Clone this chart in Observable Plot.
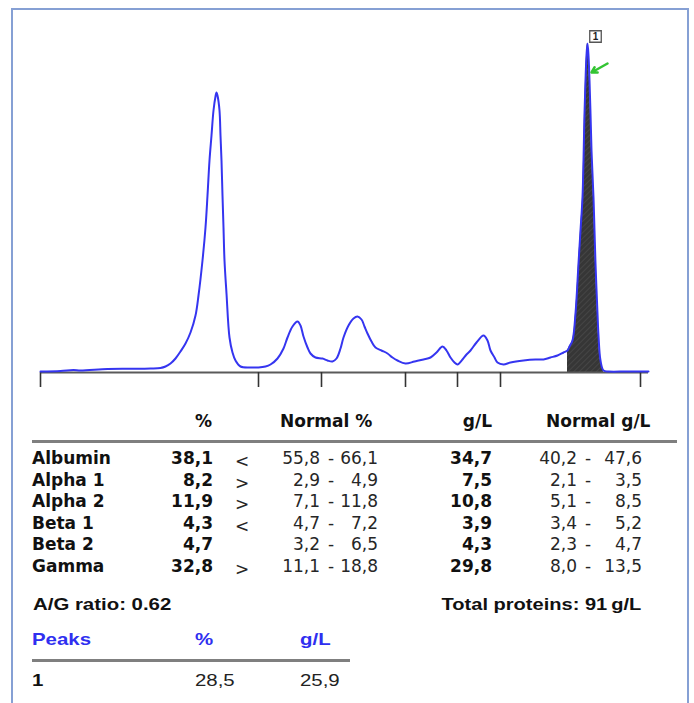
<!DOCTYPE html>
<html><head><meta charset="utf-8">
<script src="https://cdn.jsdelivr.net/npm/d3@7"></script>
<script src="https://cdn.jsdelivr.net/npm/@observablehq/plot@0.6"></script>
<style>
html,body{margin:0;padding:0;background:#fff;overflow:hidden;width:694px;height:703px}
#page{position:relative;width:694px;height:703px;overflow:hidden}
#frame{position:absolute;left:11px;top:8px;width:678px;height:720px;border:2px solid #86a0d4;box-sizing:border-box}
#chart{position:absolute;left:0;top:0}
.t{position:absolute;white-space:pre;line-height:20px;height:20px}
.v{font-family:"DejaVu Sans",sans-serif;font-size:17px;color:#262626}
.b{font-weight:bold;color:#111}
.a{font-family:"Liberation Sans",Arial,sans-serif;font-size:17px;font-weight:bold;color:#111}
.ar{font-family:"Liberation Sans",Arial,sans-serif;font-size:17px;color:#222}
.blue{color:#2f2ff0}
.rule{position:absolute;height:3px;background:#7f7f7f}
</style>
</head>
<body>
<div id="page">
  <div id="frame"></div>
  <div id="chart"></div>
</div>
<script>
// ---- Densitometry trace (mobility units, density units) ----
const mobility = [0,20,33,40,67,90,110,120,125,130,135,140,145,150,155,158,162,165,167,169,171,173,175,176,177,179,180,181,182,183,184,186,189,192,195,200,210,218,225,230,237,243,247,252,257,260,263,267,270,275,282,287,292,296,300,303,308,313,317,321,324,327,331,335,341,347,352,357,365,374,383,390,396,402,406,410,414,417,422,426,430,436,443,447,450,454,457,463,470,483,495,503,510,517,523,527,529,532,535,538,540,542,543,544,545,546,547,548,549,550,551,553,554,555,557,558,560,563,568,585,600,608];
const density = [1,1.5,2.5,2,3.5,3.7,4,4.5,6,9,14,21,29,40,57,77,112,145,177,212,237,262,276,280,277,262,237,212,177,145,112,79,35,20,12,6,5,5,6,8,14,24,35,46,51,47,36,25,19,15,14,12,11,14,24,35,47,54,56,53,46,39,31,25,22,19,15,12,9,11,13,15,20,26,22,15,10,8,13,18,22,30,37,32,22,15,10,8,10,12,13,13,15,17,20,22,26,32,59,109,142,175,212,259,292,317,329,317,292,259,222,175,142,109,59,37,12,2,1,1,1,1];

// fraction boundaries (mobility units)
const boundaries = [0, 218, 281, 365, 417, 460, 600];

// monoclonal peak
const peakIds = [1];
const peakMobility = [547];
const peakDensity = [329];
const peakRangeStart = [527];
const peakRangeEnd = [563];
const peakPct = [28.5];
const peakGL = [25.9];

// ---- Result table ----
const fractions = ["Albumin", "Alpha 1", "Alpha 2", "Beta 1", "Beta 2", "Gamma"];
const percent = [38.1, 8.2, 11.9, 4.3, 4.7, 32.8];
const flags = ["<", ">", ">", "<", "", ">"];
const normalPctLow = [55.8, 2.9, 7.1, 4.7, 3.2, 11.1];
const normalPctHigh = [66.1, 4.9, 11.8, 7.2, 6.5, 18.8];
const gramsPerL = [34.7, 7.5, 10.8, 3.9, 4.3, 29.8];
const normalGLLow = [40.2, 2.1, 5.1, 3.4, 2.3, 8.0];
const normalGLHigh = [47.6, 3.5, 8.5, 5.2, 4.7, 13.5];
const agRatio = "0.62";
const totalProteins = 91;

const fmt = v => v.toFixed(1).replace(".", ",");

// ---- Plot ----
const curve = mobility.map((m, i) => ({m, d: density[i]}));
const peaks = peakIds.map((id, i) => ({id, m: peakMobility[i], d: peakDensity[i], s: peakRangeStart[i], e: peakRangeEnd[i]}));
const shaded = curve.filter(p => peaks.some(k => p.m >= k.s && p.m <= k.e));
const pointer = peaks.map(k => ({x1: k.m + 20, y1: k.d - 20, x2: k.m + 4, y2: k.d - 29}));

const chart = Plot.plot({
  width: 694,
  height: 395,
  marginLeft: 40,
  marginRight: 46,
  marginTop: 43,
  marginBottom: 23,
  x: {domain: [0, 608], axis: null, label: null},
  y: {domain: [0, 329], axis: null, label: null},
  style: {background: "transparent", overflow: "visible"},
  marks: [
    Plot.areaY(shaded, {x: "m", y: "d", fill: "url(#hatch)", curve: "catmull-rom"}),
    Plot.ruleY([0], {stroke: "#5a5a5a", strokeWidth: 2}),
    Plot.axisX({ticks: boundaries, tickSize: 15, tickFormat: () => "", label: null, stroke: "#333", strokeWidth: 1.6}),
    Plot.line(curve, {x: "m", y: "d", stroke: "#3535f0", strokeWidth: 2, curve: "catmull-rom"}),
    Plot.arrow(pointer, {x1: "x1", y1: "y1", x2: "x2", y2: "y2", stroke: "#33c433", strokeWidth: 2.5, headLength: 7}),
    Plot.dot(peaks, {x: "m", y: "d", symbol: "square", r: 6.5, fill: "white", stroke: "#555", strokeWidth: 1.3, dx: 8, dy: -7}),
    Plot.text(peaks, {x: "m", y: "d", text: "id", dx: 8, dy: -7, fontSize: 10, fontWeight: "bold", fill: "#222", fontFamily: "Liberation Sans"})
  ]
});
// hatch pattern for the integrated peak
const ns = "http://www.w3.org/2000/svg";
const defs = document.createElementNS(ns, "defs");
defs.innerHTML = '<pattern id="hatch" patternUnits="userSpaceOnUse" width="4" height="4" patternTransform="rotate(45)"><rect width="4" height="4" fill="#363636"/><line x1="0" y1="0" x2="0" y2="4" stroke="#4e4e4e" stroke-width="1.2"/></pattern>';
chart.insertBefore(defs, chart.firstChild);
document.getElementById("chart").appendChild(chart);

// ---- Text layout ----
const page = document.getElementById("page");
function place(txt, x, yc, align, cls, sx) {
  const el = document.createElement("div");
  el.className = "t " + cls;
  el.textContent = txt;
  el.style.top = (yc - 10) + "px";
  if (align === "right") { el.style.right = (694 - x) + "px"; el.style.textAlign = "right"; }
  else if (align === "center") { el.style.left = (x - 50) + "px"; el.style.width = "100px"; el.style.textAlign = "center"; }
  else el.style.left = x + "px";
  if (sx) { el.style.transform = `scaleX(${sx})`; el.style.transformOrigin = align === "right" ? "right" : "left"; }
  page.appendChild(el);
}
function rule(x1, x2, y) {
  const el = document.createElement("div");
  el.className = "rule";
  el.style.left = x1 + "px"; el.style.width = (x2 - x1) + "px"; el.style.top = (y - 1.5) + "px";
  page.appendChild(el);
}

// header
place("%", 212, 421, "right", "v b");
place("Normal %", 280, 421, "left", "v b");
place("g/L", 492, 421, "right", "v b");
place("Normal g/L", 546, 421, "left", "v b");
rule(32, 677, 441);

fractions.forEach((f, i) => {
  const y = 458 + i * 21.6;
  place(f, 32, y, "left", "v b");
  place(fmt(percent[i]), 213, y, "right", "v b");
  if (flags[i]) place(flags[i], 242, y + 3, "center", "v");
  place(fmt(normalPctLow[i]), 320, y, "right", "v");
  place("-", 331, y, "center", "v");
  place(fmt(normalPctHigh[i]), 378, y, "right", "v");
  place(fmt(gramsPerL[i]), 492, y, "right", "v b");
  place(fmt(normalGLLow[i]), 577, y, "right", "v");
  place("-", 588, y, "center", "v");
  place(fmt(normalGLHigh[i]), 642, y, "right", "v");
});

place("A/G ratio: " + agRatio, 33, 605, "left", "a", 1.2);
place("Total proteins: " + totalProteins + "\u2009g/L", 641, 605, "right", "a", 1.18);

place("Peaks", 32, 640, "left", "a blue", 1.2);
place("%", 195, 640, "left", "a blue", 1.2);
place("g/L", 300, 640, "left", "a blue", 1.2);
rule(32, 350, 660);
peakIds.forEach((id, i) => {
  const y = 681 + i * 22;
  place(String(id), 32, y, "left", "a", 1.2);
  place(fmt(peakPct[i]), 195, y, "left", "ar", 1.2);
  place(fmt(peakGL[i]), 300, y, "left", "ar", 1.2);
});
</script>
</body></html>
